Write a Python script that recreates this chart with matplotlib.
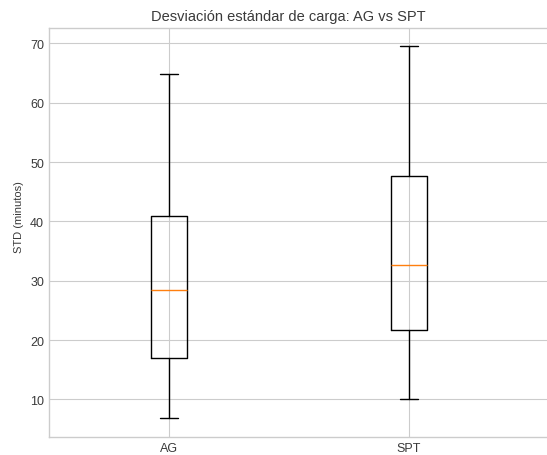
import matplotlib.pyplot as plt

# Datos
grupos = ["AG", "SPT"]
minimo = [6.8, 10.0]
q1 = [17.0, 21.7]
mediana = [28.4, 32.6]
q3 = [41.0, 47.6]
maximo = [64.9, 69.5]

plt.style.use("seaborn-v0_8-whitegrid")
plt.rcParams["font.family"] = ["Liberation Sans", "DejaVu Sans"]

stats = []
for i in range(len(grupos)):
    stats.append({"label": grupos[i], "whislo": minimo[i], "q1": q1[i],
                  "med": mediana[i], "q3": q3[i], "whishi": maximo[i], "fliers": []})

fig = plt.figure(figsize=(5.47, 4.56), dpi=100)
ax = fig.add_axes([49 / 547, 18 / 456, 510 / 547, 409 / 456])
ax.bxp(stats, medianprops={"color": "#ff7f0e"})
ax.set_xlim(0.5, 0.5 + 510 / 240)
ax.set_ylim(3.67, 72.6)
ax.spines["right"].set_visible(False)
ax.tick_params(labelsize=9, colors="#3a3a3a")
ax.set_ylabel("STD (minutos)", fontsize=8, color="#3a3a3a")
ax.yaxis.set_label_coords(-0.05, 0.54)
ax.set_title("Desviación estándar de carga: AG vs SPT", fontsize=10.5, color="#3a3a3a", x=0.47)

fig.savefig("out.png", dpi=100)
